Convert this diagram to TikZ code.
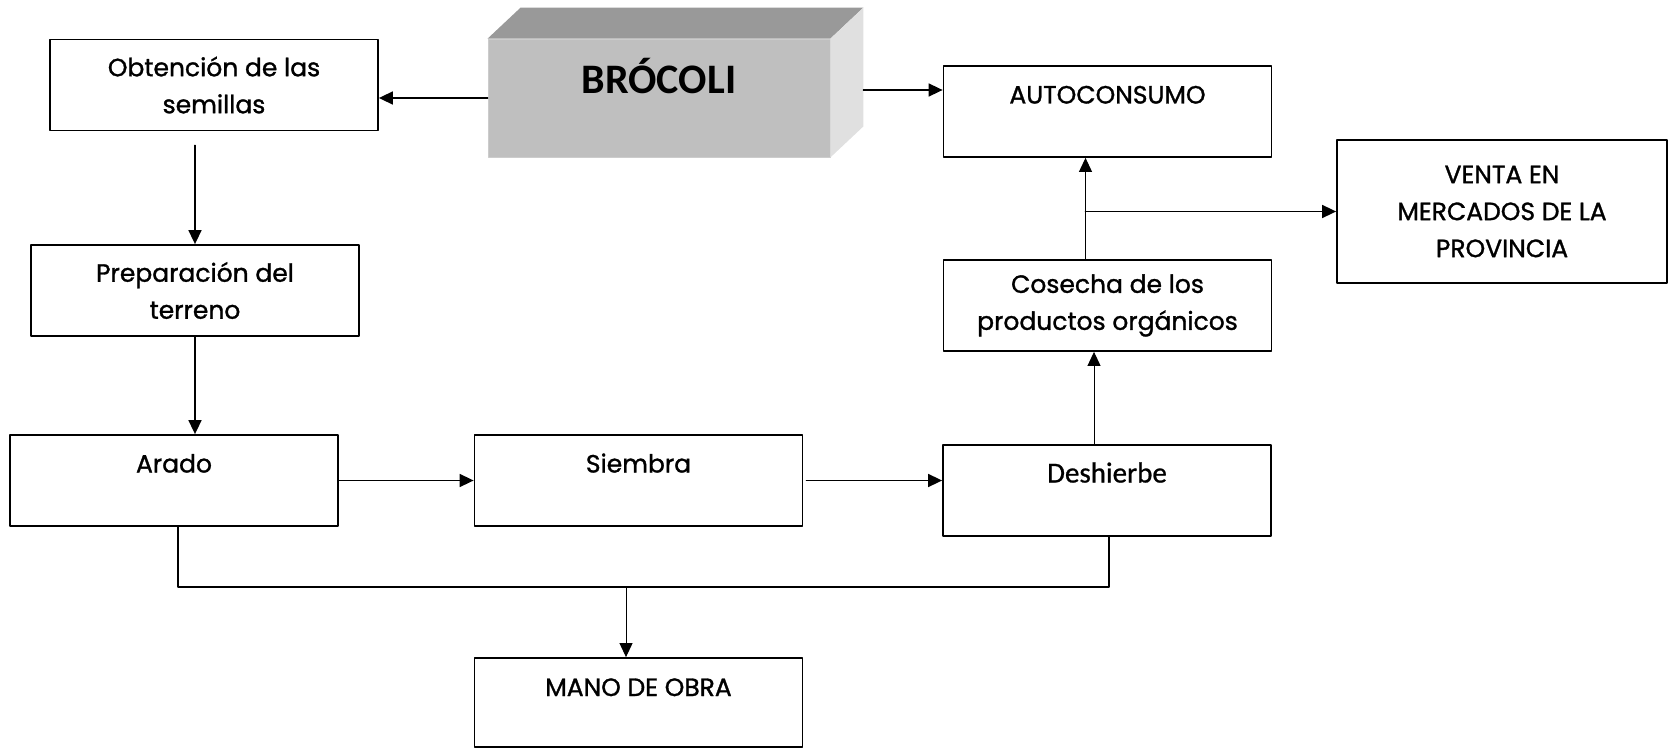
\documentclass[tikz,border=0pt]{standalone}
\usepackage{fontspec}
\setmainfont{Poppins}[UprightFeatures={FakeBold=1.2}]
\newfontfamily\calibri{Carlito}[UprightFeatures={FakeBold=0.8}]
\usetikzlibrary{positioning,arrows.meta,calc}

\definecolor{frente}{gray}{0.75}
\definecolor{tapa}{gray}{0.6}
\definecolor{lado}{gray}{0.88}

\tikzset{
	caja/.style={draw, line width=0.9pt, minimum width=164pt, minimum height=45.5pt,
		inner sep=0pt, align=center, font=\fontsize{12.5}{18.5}\selectfont},
	arriba/.style={text height=9.5pt, text depth=17.5pt},
	flecha/.style={->, line width=0.8pt},
}

\begin{document}
\begin{tikzpicture}[line cap=round,line join=round,>={Triangle[length=7pt,width=6.5pt]},
		x=0.5pt,y=-0.5pt]
		\useasboundingbox (0,0) rectangle (1669,749);
		% caja 3D del producto
		\node[draw=black!20, fill=frente, minimum width=171pt, minimum height=59pt, inner sep=0pt,
			text height=13pt, text depth=17pt, font=\calibri\bfseries\fontsize{21}{25}\selectfont]
			(broc) at (659,98) {BRÓCOLI};
		\fill[tapa] (broc.north west) -- ++(33,-31) -- ($(broc.north east)+(33,-31)$)
			-- (broc.north east) -- cycle;
		\fill[lado] (broc.north east) -- ++(33,-31) -- ($(broc.south east)+(33,-31)$)
			-- (broc.south east) -- cycle;
		% etapas
		\node[caja] (obt) at (214,85) {Obtención de las\\semillas};
		\node[caja] (prep) at (195,290.5) {Preparación del\\terreno};
		\node[caja,arriba] (arado) at (174,480.5) {Arado};
		\node[caja,arriba] (siembra) at (638.5,480.5) {Siembra};
		\node[caja,arriba,font=\calibri\fontsize{14.5}{17}\selectfont] (desh) at (1107,490.5) {Deshierbe};
		\node[caja] (cos) at (1107.5,305.5) {Cosecha de los\\productos orgánicos};
		\node[caja,arriba] (auto) at (1107.5,111.5) {AUTOCONSUMO};
		\node[caja,minimum width=165pt,minimum height=71.5pt] (venta) at (1502,211.5)
			{VENTA EN\\MERCADOS DE LA\\PROVINCIA};
		\node[caja,arriba,minimum height=44.5pt,text depth=16pt] (mano) at (638.5,702.5) {MANO DE OBRA};
		% flechas
		\draw[flecha] (broc.west) -- (broc.west -| obt.east);
		\coordinate (bder) at ([shift={(33,-8)}]broc.east);
		\draw[flecha] (bder) -- (bder -| auto.west);
		\draw[flecha,shorten <=7pt] (obt.south -| prep.north) -- (prep.north);
		\draw[flecha] (prep.south) -- (prep.south |- arado.north);
		\draw[flecha] (arado.east) -- (siembra.west);
		\draw[flecha,shorten <=1.5pt] (siembra.east) -- (siembra.east -| desh.west);
		\coordinate (dn) at ([xshift=-6.5pt]desh.north);
		\draw[flecha,line width=0.5pt] (dn) -- (dn |- cos.south);
		\coordinate (cn) at ([xshift=-11pt]cos.north);
		\draw[flecha,line width=0.5pt] (cn) -- (cn |- auto.south);
		\draw[flecha] (cn |- venta.west) -- (venta.west);
		% mano de obra
		\draw[line width=0.8pt] ([xshift=2pt]arado.south) -- ++(0,60) coordinate (bus)
			-| ([xshift=1pt]desh.south);
		\draw[flecha,line width=0.5pt] ($(bus -| mano.north)+(-12.5,0)$) -- ($(mano.north)+(-12.5,0)$);
\end{tikzpicture}
\end{document}
